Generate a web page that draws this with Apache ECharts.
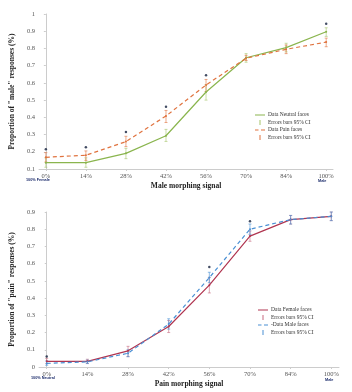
<!DOCTYPE html>
<html>
<head>
<meta charset="utf-8">
<script src="https://cdn.jsdelivr.net/npm/echarts@6/dist/echarts.min.js"></script>
<style>
  html, body { margin: 0; padding: 0; background: #fff; }
  #main { width: 352px; height: 392px; }
</style>
</head>
<body>
<div id="main"></div>
<script>
    "use strict";

    // morphing levels (x categories)
    var levels = ['0%', '14%', '28%', '42%', '56%', '70%', '84%', '100%'];

    // top chart: proportion of "male" responses
    var neutralFaces = [0.137, 0.137, 0.191, 0.293, 0.547, 0.746, 0.805, 0.897];
    var neutralLow = [0.11, 0.11, 0.16, 0.26, 0.50, 0.72, 0.78, 0.87];
    var neutralHigh = [0.165, 0.165, 0.22, 0.33, 0.59, 0.77, 0.83, 0.92];
    var painFaces = [0.168, 0.18, 0.259, 0.408, 0.588, 0.743, 0.795, 0.837];
    var painLow = [0.14, 0.15, 0.23, 0.37, 0.55, 0.73, 0.77, 0.81];
    var painHigh = [0.195, 0.205, 0.29, 0.44, 0.62, 0.76, 0.82, 0.86];
    var maleSignif = [[0, 0.214], [1, 0.226], [2, 0.315], [3, 0.462], [4, 0.644], [7, 0.944]];

    // bottom chart: proportion of "pain" responses
    var femaleFaces = [0.033, 0.033, 0.094, 0.235, 0.475, 0.76, 0.856, 0.875];
    var femaleLow = [0.02, 0.02, 0.06, 0.20, 0.43, 0.73, 0.83, 0.85];
    var femaleHigh = [0.05, 0.045, 0.12, 0.27, 0.52, 0.79, 0.88, 0.90];
    var maleFaces = [0.021, 0.03, 0.08, 0.249, 0.519, 0.80, 0.856, 0.875];
    var maleLow = [0.01, 0.02, 0.06, 0.22, 0.49, 0.77, 0.83, 0.85];
    var maleHigh = [0.035, 0.04, 0.10, 0.28, 0.55, 0.83, 0.88, 0.90];
    var painSignif = [[0, 0.061], [4, 0.58], [5, 0.847]];

    var FONT = '"Liberation Serif", "DejaVu Serif", serif';
    var idx = [0, 1, 2, 3, 4, 5, 6, 7];

    // legend icons
    var ICON_LINE = 'path://M0,4 L20,4 L20,6 L0,6 Z';
    var ICON_DASH = 'path://M0,4 L7,4 L7,6 L0,6 Z M12,4 L20,4 L20,6 L12,6 Z';
    var ICON_BAR = 'path://M4,0 L6,0 L6,10 L4,10 Z';

    function pairs(values) {
        return values.map(function(v, i) { return [i, v]; });
    }
    function bars(low, high) {
        return low.map(function(v, i) { return [i, v, high[i]]; });
    }
    function errorBars(name, xi, yi, low, high, color) {
        return {
            name: name,
            type: 'custom',
            xAxisIndex: xi,
            yAxisIndex: yi,
            z: 3,
            itemStyle: { color: color },
            data: bars(low, high),
            renderItem: function(params, api) {
                var lo = api.coord([api.value(0), api.value(1)]);
                var hi = api.coord([api.value(0), api.value(2)]);
                var st = { stroke: color, lineWidth: 1, opacity: 0.6 };
                return {
                    type: 'group',
                    children: [
                        { type: 'line', shape: { x1: lo[0], y1: lo[1], x2: hi[0], y2: hi[1] }, style: st },
                        { type: 'line', shape: { x1: lo[0] - 1.5, y1: lo[1], x2: lo[0] + 1.5, y2: lo[1] }, style: st },
                        { type: 'line', shape: { x1: hi[0] - 1.5, y1: hi[1], x2: hi[0] + 1.5, y2: hi[1] }, style: st }
                    ]
                };
            }
        };
    }
    function lineSeries(name, xi, yi, values, color, dashed) {
        return {
            name: name,
            type: 'line',
            xAxisIndex: xi,
            yAxisIndex: yi,
            smooth: false,
            symbol: 'circle',
            symbolSize: 2,
            itemStyle: { color: color },
            lineStyle: { color: color, width: 1.2, type: dashed ? [4, 3] : 'solid' },
            data: pairs(values),
            z: 4
        };
    }
    function xAxis(gi, min, max, title) {
        return {
            type: 'value',
            gridIndex: gi,
            min: min,
            max: max,
            name: title,
            nameLocation: 'middle',
            nameGap: 13,
            nameTextStyle: { fontFamily: FONT, fontSize: 7.5, fontWeight: 'bold', color: '#222' },
            axisLine: { lineStyle: { color: '#ccc' } },
            axisTick: { show: true, length: 2, customValues: idx, lineStyle: { color: '#ccc' } },
            axisLabel: {
                customValues: idx,
                fontFamily: FONT, fontSize: 6.5, color: '#555', margin: 4,
                formatter: function(v) { return levels[Math.round(v)]; }
            },
            splitLine: { show: false }
        };
    }
    function yAxis(gi, min, max, title) {
        return {
            type: 'value',
            gridIndex: gi,
            min: min,
            max: max,
            interval: 0.1,
            name: title,
            nameLocation: 'middle',
            nameGap: 16,
            nameTextStyle: { fontFamily: FONT, fontSize: 7.5, fontWeight: 'bold', color: '#222' },
            axisLine: { show: true, lineStyle: { color: '#ccc' } },
            axisTick: { show: true, length: 2, lineStyle: { color: '#ccc' } },
            axisLabel: {
                fontFamily: FONT, fontSize: 6.5, color: '#555', margin: 4,
                formatter: function(v) { return v === 0 ? '0' : (v === 1 ? '1' : v.toFixed(1)); }
            },
            splitLine: { show: false }
        };
    }
    function legend(top, left, names) {
        return {
            top: top,
            left: left,
            orient: 'vertical',
            itemGap: 1.5,
            itemWidth: 10,
            itemHeight: 5,
            padding: 0,
            textStyle: { fontFamily: FONT, fontSize: 5.5, color: '#333', padding: [0, 0, 0, -2] },
            data: [
                { name: names[0], icon: ICON_LINE },
                { name: names[1], icon: ICON_BAR },
                { name: names[2], icon: ICON_DASH },
                { name: names[3], icon: ICON_BAR }
            ]
        };
    }

    var chart = echarts.init(document.getElementById('main'), null, { renderer: 'canvas' });

    var option = {
        animation: false,
        backgroundColor: '#fff',
        grid: [
            { left: 29, top: 14, width: 304, height: 155 },
            { left: 35, top: 212, width: 304, height: 155 }
        ],
        xAxis: [
            xAxis(0, -0.17, 7.17, 'Male morphing signal'),
            xAxis(1, -0.19, 7.19, 'Pain morphing signal')
        ],
        yAxis: [
            yAxis(0, 0.1, 1, 'Proportion of "male" responses (%)'),
            yAxis(1, 0, 0.9, 'Proportion of "pain" responses (%)')
        ],
        legend: [
            legend(112, 255, ['Data Neutral faces', 'Errors bars 95% CI', 'Data Pain faces', 'Errors bars 95% CI ']),
            legend(307, 258, ['Data Female faces', 'Errors bars 95% CI  ', '-Data Male faces', 'Errors bars 95% CI   '])
        ],
        graphic: [
            { type: 'text', left: 26, top: 178, style: { text: '100% Female', font: 'bold 3.8px sans-serif', fill: '#1a2a6a' } },
            { type: 'text', left: 318, top: 179, style: { text: 'Male', font: 'bold 3.8px sans-serif', fill: '#1a2a6a' } },
            { type: 'text', left: 31, top: 376, style: { text: '100% Neutral', font: 'bold 3.8px sans-serif', fill: '#1a2a6a' } },
            { type: 'text', left: 325, top: 378, style: { text: 'Male', font: 'bold 3.8px sans-serif', fill: '#1a2a6a' } }
        ],
        series: [
            lineSeries('Data Neutral faces', 0, 0, neutralFaces, '#8ab54e', false),
            errorBars('Errors bars 95% CI', 0, 0, neutralLow, neutralHigh, '#a6c46a'),
            lineSeries('Data Pain faces', 0, 0, painFaces, '#e0733f', true),
            errorBars('Errors bars 95% CI ', 0, 0, painLow, painHigh, '#e0733f'),
            {
                type: 'scatter', xAxisIndex: 0, yAxisIndex: 0, symbolSize: 2.5,
                itemStyle: { color: '#14213d' }, data: maleSignif, z: 5
            },
            lineSeries('Data Female faces', 1, 1, femaleFaces, '#b03550', false),
            errorBars('Errors bars 95% CI  ', 1, 1, femaleLow, femaleHigh, '#c76a80'),
            lineSeries('-Data Male faces', 1, 1, maleFaces, '#4a90d4', true),
            errorBars('Errors bars 95% CI   ', 1, 1, maleLow, maleHigh, '#4a90d4'),
            {
                type: 'scatter', xAxisIndex: 1, yAxisIndex: 1, symbolSize: 2.5,
                itemStyle: { color: '#14213d' }, data: painSignif, z: 5
            }
        ]
    };

    chart.setOption(option);
</script>
</body>
</html>
